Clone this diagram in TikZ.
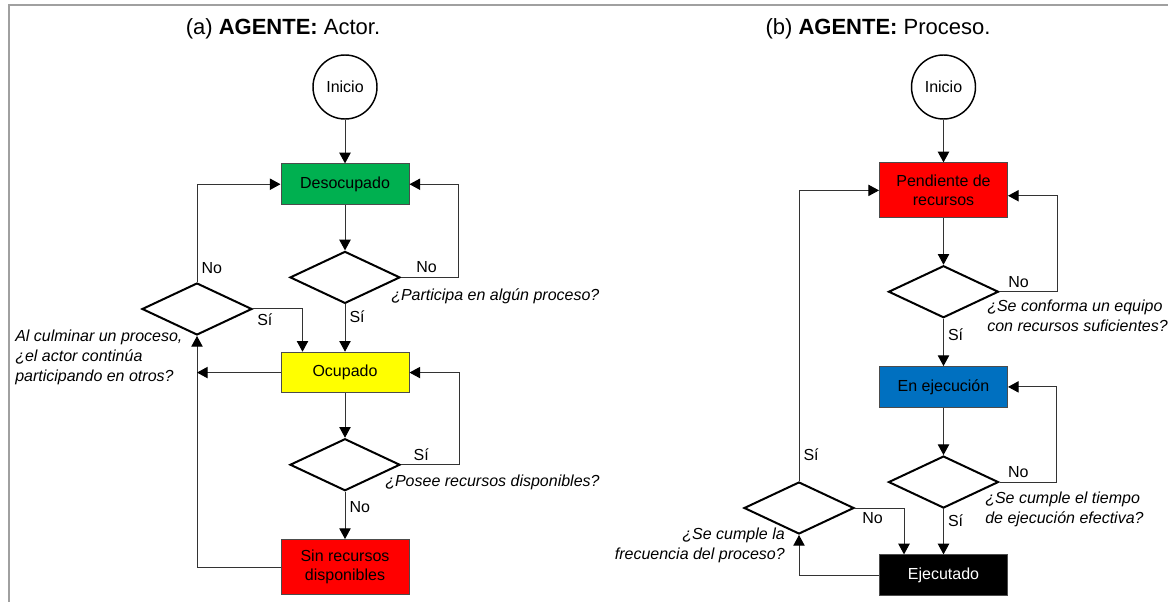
\documentclass[tikz,border=0pt]{standalone}
\usepackage{fontspec}
\setmainfont{Liberation Sans}
\usetikzlibrary{arrows.meta,positioning,shapes.geometric}
\definecolor{verde}{RGB}{0,176,80}
\definecolor{amarillo}{RGB}{255,255,0}
\definecolor{rojo}{RGB}{255,0,0}
\definecolor{azul}{RGB}{0,112,192}
\definecolor{marco}{RGB}{160,160,160}

\begin{document}
\begin{tikzpicture}[x=0.75pt,y=-0.75pt,font=\fontsize{12pt}{14pt}\selectfont,>={Triangle[length=8pt,width=8.5pt]},
 start/.style={circle,draw=black,line width=1.1pt,minimum size=48pt,inner sep=0pt},
 state/.style={draw=black!70,line width=0.75pt,minimum width=96pt,minimum height=30.5pt,align=center,inner sep=2pt},
 tall/.style={minimum height=41.25pt},
 cond/.style={diamond,draw=black,line width=1.5pt,minimum width=82.5pt,minimum height=39pt,inner sep=0pt},
 flow/.style={-{Triangle[length=8pt,width=8.5pt,fill=black,color=black]},line width=0.75pt,black!80},
 lbl/.style={inner sep=3pt,text=black},
 ask/.style={font=\fontsize{12pt}{15pt}\selectfont\itshape,align=left,inner sep=0pt},
 title/.style={font=\fontsize{16.5pt}{20pt}\selectfont}]
\useasboundingbox (0,0) rectangle (1168,602);
\draw[marco,line width=1.5pt] (8.5,602) -- (8.5,5) -- (1168,5);

% (a) actor
\node[title] (titA) at (283,29) {(a) \textbf{AGENTE:} Actor.};
\node[start] (ini1) at (345,87) {Inicio};
\node[state,fill=verde,below=32.75pt of ini1] (deso) {Desocupado};
\node[cond,below=34pt of deso] (q1) {};
\node[state,fill=amarillo,below=35.5pt of q1] (ocup) {Ocupado};
\node[cond,below=33.25pt of ocup] (q2) {};
\node[state,tall,fill=rojo,below=35.5pt of q2] (sin) {Sin recursos\\disponibles};
\node[cond] (more) at (197,309) {};

\node[ask,anchor=west] (q1txt) at (391,296) {¿Participa en algún proceso?};
\node[ask,anchor=west] (q2txt) at (385,482) {¿Posee recursos disponibles?};
\node[ask,anchor=west] (moretxt) at (15,357.5) {Al culminar un proceso,\\¿el actor continúa\\participando en otros?};

\draw[flow] (ini1) -- (deso);
\draw[flow] (deso) -- (q1);
\draw[flow] (q1.east) -- ++(57,0) node[lbl,pos=0.45,above] (noA) {No} |- (deso.east);
\draw[flow] (q1) -- (ocup) node[lbl,pos=0.25,right] (siA) {Sí};
\draw[flow] (ocup) -- (q2);
\draw[flow] (q2.east) -- ++(58,0) node[lbl,pos=0.35,above] (siB) {Sí} |- (ocup.east);
\draw[flow] (q2) -- (sin) node[lbl,pos=0.33,right] (noB) {No};
\draw[flow] (sin.west) -| (more.south);
\draw[flow] (ocup.west) -- (more.south |- ocup.west);
\draw[flow] (more.north) |- (deso.west) node[lbl,pos=0.07,right] (noC) {No};
\draw[flow] (more.east) -| ([xshift=16.5pt]ocup.north west) node[lbl,pos=0.12,below] (siC) {Sí};

% (b) proceso
\node[title] (titB) at (878,29) {(b) \textbf{AGENTE:} Proceso.};
\node[start] (ini2) at (943.5,87) {Inicio};
\node[state,tall,fill=rojo,below=32pt of ini2] (pend) {Pendiente de\\recursos};
\node[cond,below=34.75pt of pend] (q3) {};
\node[state,fill=azul,below=35.5pt of q3] (exe) {En ejecución};
\node[cond,below=35.5pt of exe] (q4) {};
\node[state,fill=black,text=white,below=34pt of q4] (ejec) {Ejecutado};
\node[cond] (q5) at (799,508) {};

\node[ask,anchor=west] (q3txt) at (987,316) {¿Se conforma un equipo\\con recursos suficientes?};
\node[ask,anchor=west] (q4txt) at (985,509) {¿Se cumple el tiempo\\de ejecución efectiva?};
\node[ask,anchor=east,align=right] (q5txt) at (785,545) {¿Se cumple la\\frecuencia del proceso?};

\draw[flow] (ini2) -- (pend);
\draw[flow] (pend) -- (q3);
\draw[flow] (q3.east) -- ++(58,0) node[lbl,pos=0.33,above] (noD) {No} |- ([yshift=-4pt]pend.east);
\draw[flow] (q3) -- (exe) node[lbl,pos=0.33,right] (siD) {Sí};
\draw[flow] (exe) -- (q4);
\draw[flow] (q4.east) -- ++(57,0) node[lbl,pos=0.33,above] (noE) {No} |- (exe.east);
\draw[flow] (q4) -- (ejec) node[lbl,pos=0.25,right] (siE) {Sí};
\draw[flow] (ejec.west) -| (q5.south);
\draw[flow] (q5.east) -| ([xshift=18.75pt]ejec.north west) node[lbl,pos=0.18,below] (noF) {No};
\draw[flow] (q5.north) |- (pend.west) node[lbl,pos=0.045,right] (siF) {Sí};
\end{tikzpicture}
\end{document}
